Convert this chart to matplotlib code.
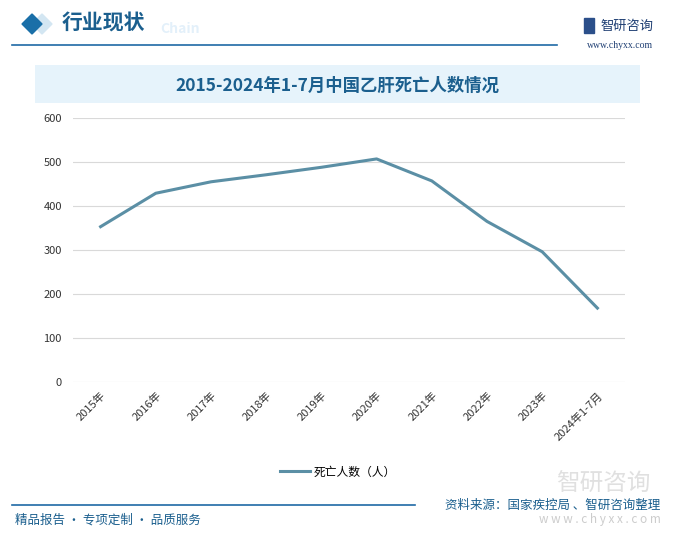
import matplotlib
matplotlib.use("Agg")
import matplotlib.pyplot as plt
from matplotlib.patches import Rectangle, Polygon

plt.rcParams['font.family'] = ['Noto Sans CJK SC', 'DejaVu Sans']

# data
categories = ['2015年', '2016年', '2017年', '2018年', '2019年',
              '2020年', '2021年', '2022年', '2023年', '2024年1-7月']
deaths = [353, 429, 455, 471, 488, 507, 457, 365, 296, 168]
y_ticks = [0, 100, 200, 300, 400, 500, 600]

title = '2015-2024年1-7月中国乙肝死亡人数情况'
series_name = '死亡人数（人）'
source = '资料来源：国家疾控局 、智研咨询整理'

W, H = 689, 545
fig = plt.figure(figsize=(W / 100, H / 100), dpi=100)

# overlay axis in pixel coords for the decoration
deco = fig.add_axes([0, 0, 1, 1])
deco.set_xlim(0, W)
deco.set_ylim(H, 0)
deco.axis('off')

dark_blue = '#1b5f8e'

# header
deco.add_patch(Polygon([[32, 24], [42, 14], [52, 24], [42, 34]], color='#d3e6f2'))
deco.add_patch(Polygon([[22, 24], [32, 14], [42, 24], [32, 34]], color='#1a6fa8'))
deco.text(160, 29, 'Chain', fontsize=10, color='#e3f0fa', fontweight='bold',
          va='center', ha='left')
deco.text(62, 23, '行业现状', fontsize=15, color=dark_blue, fontweight='bold',
          va='center', ha='left')
deco.plot([12, 557], [45, 45], color='#1f6aa5', lw=1.2)
deco.add_patch(Rectangle((584, 18), 10, 15, color='#2b4f8a'))
deco.text(600, 26, '智研咨询', fontsize=9.5, color='#1f3f73', va='center', ha='left')
deco.text(620, 45, 'www.chyxx.com', fontsize=7, color='#1f3f73', va='center',
          ha='center', family='Liberation Serif')

# title band
deco.add_patch(Rectangle((35, 65), 605, 38, color='#e6f3fb', lw=0))
deco.text(337, 86, title, fontsize=12.5, color=dark_blue, fontweight='bold',
          va='center', ha='center')

# footer
deco.plot([12, 415], [505, 505], color='#1f6aa5', lw=1.2)
deco.text(15, 520, '精品报告 · 专项定制 · 品质服务', fontsize=9, color=dark_blue,
          va='center', ha='left')
deco.text(603, 484, '智研咨询', fontsize=17, color='#e0e0e0', va='center',
          ha='center', zorder=0)
deco.text(600, 520, 'w w w . c h y x x . c o m', fontsize=8.5, color='#cccccc',
          va='center', ha='center', zorder=0)
deco.text(660, 505, source, fontsize=9, color=dark_blue, va='center', ha='right')

# main chart
ax = fig.add_axes([73 / W, 1 - 382 / H, (625 - 73) / W, (382 - 118) / H])
x = list(range(len(categories)))
ax.plot(x, deaths, color='#5b8fa5', lw=2.2, label=series_name,
        solid_joinstyle='round')
ax.set_xlim(-0.5, len(categories) - 0.5)
ax.set_ylim(0, 600)
ax.set_yticks(y_ticks)
ax.set_xticks(x)
ax.set_xticklabels(categories, rotation=45, ha='right', rotation_mode='anchor')
ax.tick_params(axis='both', length=0, labelsize=8, colors='#333333')
ax.tick_params(axis='y', pad=8)
ax.tick_params(axis='x', pad=6)
ax.grid(axis='y', color='#d9d9d9', lw=0.8)
ax.set_axisbelow(True)
for s in ax.spines.values():
    s.set_visible(False)
ax.patch.set_alpha(0)

fig.legend(loc='center', bbox_to_anchor=(338 / W, 1 - 472 / H), frameon=False,
           fontsize=8.5, handlelength=2.5, handletextpad=0.3)

plt.savefig('out.png', dpi=100)
plt.close()
